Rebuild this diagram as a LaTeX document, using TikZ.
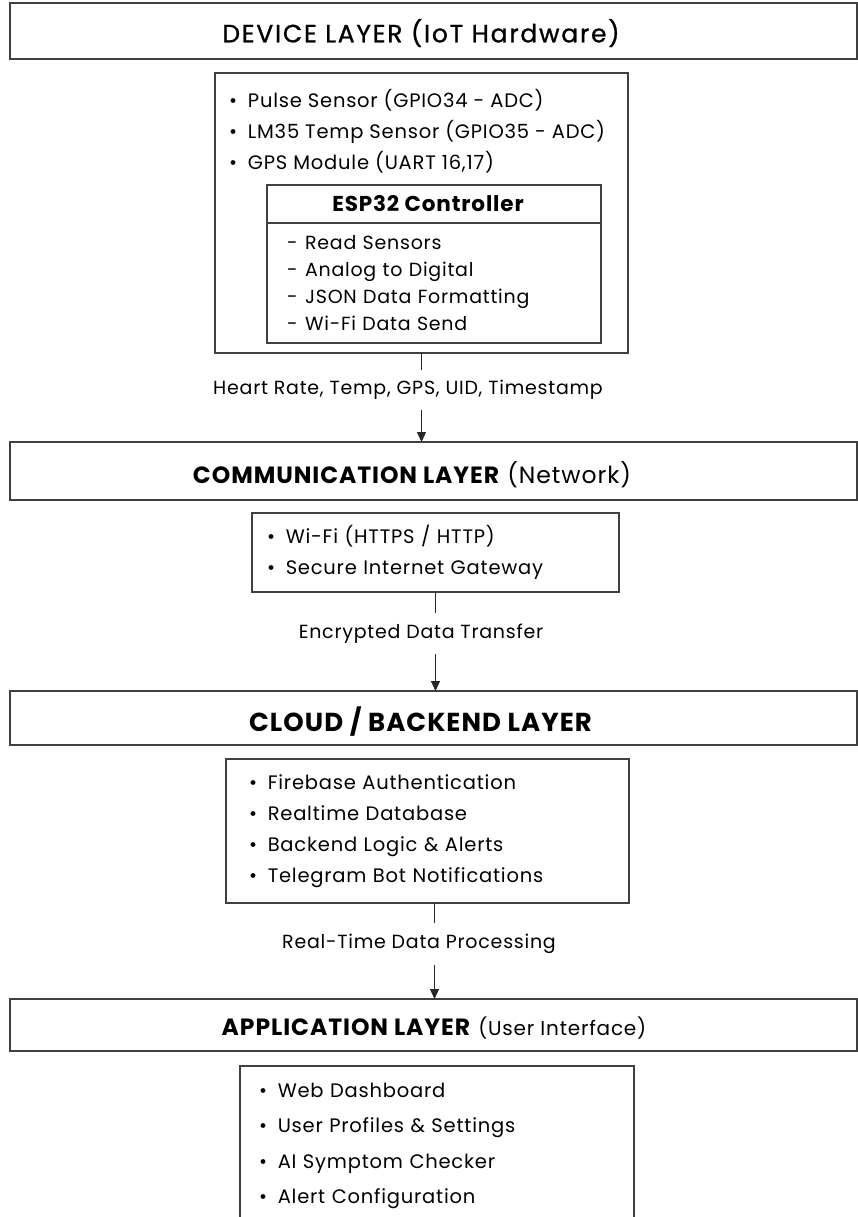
\documentclass[tikz,border=0pt]{standalone}
\usepackage{fontspec}
\setmainfont[LetterSpace=4]{Poppins}
\newfontfamily\semifont[FakeBold=1,LetterSpace=7]{Poppins}
\usetikzlibrary{positioning,arrows.meta}
\newcommand{\itm}{\textbullet\hspace{0.55em}}

\begin{document}
\begin{tikzpicture}[
        x=1pt, y=-1pt,
        layer/.style={
            draw=black!75,
            line width=1.6pt,
            minimum width=847pt,
            inner sep=0pt,
            outer sep=0pt
        },
        ltitle/.style={
            font=\fontsize{23.5}{28}\selectfont,
            inner sep=0pt
        },
        panel/.style={
            draw=black!75,
            line width=1.3pt,
            align=left,
            inner ysep=0pt,
            outer sep=0pt,
            font=\fontsize{19.5}{31}\selectfont
        },
        items/.style={
            align=left,
            inner sep=0pt,
            font=\fontsize{19.5}{31}\selectfont
        },
        flow/.style={
            font=\fontsize{19}{22}\selectfont,
            inner sep=0pt
        },
        stem/.style={line width=1.2pt, draw=black!85},
        link/.style={-{Triangle[length=10pt,width=9pt]}, line width=1.2pt, draw=black!85}
    ]
    \useasboundingbox (0,0) rectangle (858,1217);

    % device layer
    \node[layer, minimum height=56pt] (devlayer) at (433.5,31) {};
    \node[ltitle] (devtitle) at (421,33) {\semifont\fontsize{25}{28}\selectfont DEVICE LAYER (IoT Hardware)};

    \node[panel, minimum width=413pt, minimum height=280pt] (devbox) at (421.5,213) {};
    \node[items, below right=16pt and 14pt of devbox.north west] (devitems) {
        \itm Pulse Sensor (GPIO34 - ADC)\\
        \itm LM35 Temp Sensor (GPIO35 - ADC)\\
        \itm GPS Module (UART 16,17)
    };
    \node[panel, align=center, minimum width=334pt, minimum height=38pt,
          font=\fontsize{21.5}{24}\selectfont\bfseries] (esptitle) at (434,204) {ESP32 Controller\hspace*{12pt}};
    \node[panel, below=0pt of esptitle, text width=294pt, inner xsep=20pt,
          minimum height=120pt, font=\fontsize{19}{27}\selectfont] (espbody) {
        -\hspace{0.4em}Read Sensors\\
        -\hspace{0.4em}Analog to Digital\\
        -\hspace{0.4em}JSON Data Formatting\\
        -\hspace{0.4em}Wi-Fi Data Send
    };

    \node[flow, minimum height=40pt] (devflow) at (408,390) {Heart Rate, Temp, GPS, UID, Timestamp};

    % communication layer
    \node[layer, minimum height=58pt] (commlayer) at (433.5,471) {};
    \node[ltitle] (commtitle) at (412,475) {\textbf{COMMUNICATION LAYER} (Network)};

    \node[panel, text width=337pt, inner xsep=15pt, minimum height=79pt] (commbox) at (435.5,552.5) {
        \itm Wi-Fi (HTTPS / HTTP)\\
        \itm Secure Internet Gateway
    };

    \node[flow, minimum height=41pt] (commflow) at (421,633.5) {Encrypted Data Transfer};

    % cloud layer
    \node[layer, minimum height=54pt] (cloudlayer) at (433.5,718) {};
    \node[ltitle] (cloudtitle) at (421,722) {\fontsize{26}{28}\selectfont\textbf{CLOUD / BACKEND LAYER}};

    \node[panel, text width=357pt, inner xsep=23pt, minimum height=144pt] (cloudbox) at (427.5,831) {
        \itm Firebase Authentication\\
        \itm Realtime Database\\
        \itm Backend Logic \& Alerts\\
        \itm Telegram Bot Notifications
    };

    \node[flow, minimum height=42pt] (cloudflow) at (419,944) {Real-Time Data Processing};

    % application layer
    \node[layer, minimum height=52pt] (applayer) at (433.5,1025) {};
    \node[ltitle] (apptitle) at (434,1028) {\textbf{APPLICATION LAYER} {\fontsize{20}{24}\selectfont(User Interface)}};

    \node[panel, text width=356pt, inner xsep=19pt, minimum height=160pt,
          font=\fontsize{19.5}{35.5}\selectfont] (appbox) at (437,1146) {
        \itm Web Dashboard\\
        \itm User Profiles \& Settings\\
        \itm AI Symptom Checker\\
        \itm Alert Configuration
    };

    % connectors
    \draw[stem] (devbox.south) -- (devbox.south |- devflow.north);
    \draw[link] (devbox.south |- devflow.south) -- (devbox.south |- commlayer.north);
    \draw[stem] (commbox.south) -- (commbox.south |- commflow.north);
    \draw[link] (commbox.south |- commflow.south) -- (commbox.south |- cloudlayer.north);
    \draw[stem] ([xshift=7pt]cloudbox.south) -- ([xshift=7pt]cloudbox.south |- cloudflow.north);
    \draw[link] ([xshift=7pt]cloudbox.south |- cloudflow.south) -- ([xshift=7pt]cloudbox.south |- applayer.north);
\end{tikzpicture}
\end{document}
